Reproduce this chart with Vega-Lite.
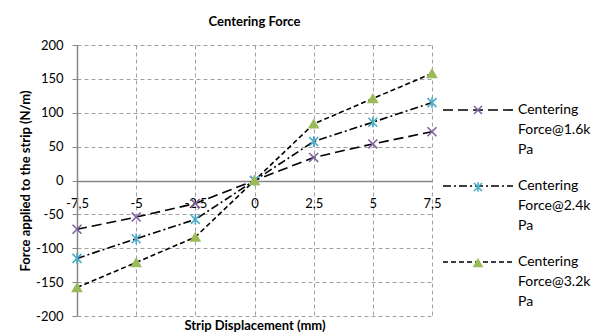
{
  "$schema": "https://vega.github.io/schema/vega-lite/v6.json",
  "width": 355,
  "height": 271,
  "autosize": "none",
  "padding": {"left": 77, "top": 45, "right": 162, "bottom": 20},
  "background": "white",
  "config": {
    "font": "Lato",
    "view": {"stroke": null},
    "axis": {"labelColor": "#000000", "titleColor": "#000000", "labelFont": "Lato", "titleFont": "Lato"}
  },
  "title": {"text": "Centering Force", "fontSize": 13, "fontWeight": "bold", "color": "#000000", "anchor": "middle", "offset": 10, "font": "Lato"},
  "data": {
    "values": [
      {"series": "Centering Force@1.6kPa", "x": -7.5, "y": -72},
      {"series": "Centering Force@1.6kPa", "x": -5, "y": -54},
      {"series": "Centering Force@1.6kPa", "x": -2.5, "y": -34},
      {"series": "Centering Force@1.6kPa", "x": 0, "y": 0},
      {"series": "Centering Force@1.6kPa", "x": 2.5, "y": 34},
      {"series": "Centering Force@1.6kPa", "x": 5, "y": 54},
      {"series": "Centering Force@1.6kPa", "x": 7.5, "y": 72},
      {"series": "Centering Force@2.4kPa", "x": -7.5, "y": -115},
      {"series": "Centering Force@2.4kPa", "x": -5, "y": -86},
      {"series": "Centering Force@2.4kPa", "x": -2.5, "y": -57.5},
      {"series": "Centering Force@2.4kPa", "x": 0, "y": 0},
      {"series": "Centering Force@2.4kPa", "x": 2.5, "y": 57.5},
      {"series": "Centering Force@2.4kPa", "x": 5, "y": 86},
      {"series": "Centering Force@2.4kPa", "x": 7.5, "y": 115},
      {"series": "Centering Force@3.2kPa", "x": -7.5, "y": -158},
      {"series": "Centering Force@3.2kPa", "x": -5, "y": -121},
      {"series": "Centering Force@3.2kPa", "x": -2.5, "y": -83.5},
      {"series": "Centering Force@3.2kPa", "x": 0, "y": 0},
      {"series": "Centering Force@3.2kPa", "x": 2.5, "y": 83.5},
      {"series": "Centering Force@3.2kPa", "x": 5, "y": 121},
      {"series": "Centering Force@3.2kPa", "x": 7.5, "y": 158}
    ]
  },
  "layer": [
    {
      "mark": {"type": "line", "color": "#000000", "strokeWidth": 1.6},
      "encoding": {
        "x": {
          "field": "x", "type": "quantitative",
          "scale": {"domain": [-7.5, 7.5], "nice": false, "zero": false},
          "axis": {
            "orient": "bottom", "values": [-7.5, -5, -2.5, 0, 2.5, 5, 7.5],
            "labels": false, "ticks": false, "domain": false,
            "grid": true, "gridDash": [4, 3], "gridColor": "#a0a0a0", "gridWidth": 1,
            "title": "Strip Displacement (mm)", "titleFontSize": 13, "titleFontWeight": "bold", "titlePadding": 3
          }
        },
        "y": {
          "field": "y", "type": "quantitative",
          "scale": {"domain": [-200, 200], "nice": false},
          "axis": {
            "values": [-200, -150, -100, -50, 0, 50, 100, 150, 200],
            "labelExpr": "toString(datum.value)", "labelOverlap": false,
            "grid": true, "gridDash": [4, 3], "gridColor": "#a0a0a0", "gridWidth": 1,
            "domainColor": "#868686", "domainWidth": 1.5,
            "tickColor": "#868686", "tickSize": 5, "labelPadding": 9, "labelFontSize": 13,
            "title": "Force applied to the strip (N/m)", "titleFontSize": 13, "titleFontWeight": "bold", "titlePadding": 3
          }
        },
        "strokeDash": {
          "field": "series", "type": "nominal",
          "scale": {
            "domain": ["Centering Force@1.6kPa", "Centering Force@2.4kPa", "Centering Force@3.2kPa"],
            "range": [[10, 5], [8, 3, 2, 3], [5, 3]]
          },
          "legend": {
            "orient": "none", "legendX": 394, "legendY": 58, "title": null, "padding": 0,
            "symbolType": "M-8.75,0H8.75", "symbolSize": 64, "symbolStrokeColor": "#000000", "symbolStrokeWidth": 1.6, "symbolFillColor": "transparent",
            "labelExpr": "[substring(datum.label,0,9), substring(datum.label,10,20), substring(datum.label,20)]",
            "labelFontSize": 14, "labelColor": "#000000", "labelOffset": 33, "labelLimit": 300,
            "rowPadding": 22,
            "encode": {"labels": {"update": {"lineHeight": {"value": 20}}}}
          }
        }
      }
    },
    {
      "mark": {"type": "point", "strokeWidth": 1.6, "opacity": 1, "size": 80},
      "encoding": {
        "x": {
          "field": "x", "type": "quantitative",
          "axis": {
            "orient": "bottom", "offset": -135, "grid": false, "ticks": false, "tickSize": 0,
            "domainColor": "#868686", "domainWidth": 1.5,
            "values": [-7.5, -5, -2.5, 0, 2.5, 5, 7.5],
            "labelExpr": "replace(toString(datum.value), '.', ',')",
            "labelPadding": 16, "labelFontSize": 13, "labelFlush": false, "labelOverlap": false, "labelBound": false,
            "title": null
          }
        },
        "y": {
          "field": "y", "type": "quantitative",
          "axis": {
            "values": [-200, -150, -100, -50, 0, 50, 100, 150, 200],
            "labelExpr": "toString(datum.value)", "labelOverlap": false,
            "grid": true, "gridDash": [4, 3], "gridColor": "#a0a0a0", "gridWidth": 1,
            "domainColor": "#868686", "domainWidth": 1.5,
            "tickColor": "#868686", "tickSize": 5, "labelPadding": 9, "labelFontSize": 13,
            "title": "Force applied to the strip (N/m)", "titleFontSize": 13, "titleFontWeight": "bold", "titlePadding": 3
          }
        },
        "shape": {
          "field": "series", "type": "nominal",
          "scale": {"range": ["M-1,-1L1,1M-1,1L1,-1", "M-1,-1L1,1M-1,1L1,-1M0,-1.2L0,1.2", "triangle-up"]},
          "legend": {
            "orient": "none", "legendX": 394, "legendY": 58, "title": null, "padding": 0,
            "symbolSize": 64, "symbolStrokeWidth": 1.6,
            "labelExpr": "[substring(datum.label,0,9), substring(datum.label,10,20), substring(datum.label,20)]",
            "labelFontSize": 14, "labelColor": "#000000", "labelOpacity": 0, "labelOffset": 33, "labelLimit": 300,
            "rowPadding": 30
          }
        },
        "fill": {
          "field": "series", "type": "nominal",
          "scale": {"range": ["#7f63a1", "#4bacc6", "#9bbb59"]},
          "legend": {
            "orient": "none", "legendX": 394, "legendY": 58, "title": null, "padding": 0,
            "symbolSize": 64, "symbolStrokeWidth": 1.6,
            "labelExpr": "[substring(datum.label,0,9), substring(datum.label,10,20), substring(datum.label,20)]",
            "labelFontSize": 14, "labelColor": "#000000", "labelOpacity": 0, "labelOffset": 33, "labelLimit": 300,
            "rowPadding": 30
          }
        },
        "stroke": {
          "field": "series", "type": "nominal",
          "scale": {"range": ["#7f63a1", "#4bacc6", "#9bbb59"]},
          "legend": {
            "orient": "none", "legendX": 394, "legendY": 58, "title": null, "padding": 0,
            "symbolSize": 64, "symbolStrokeWidth": 1.6,
            "labelExpr": "[substring(datum.label,0,9), substring(datum.label,10,20), substring(datum.label,20)]",
            "labelFontSize": 14, "labelColor": "#000000", "labelOpacity": 0, "labelOffset": 33, "labelLimit": 300,
            "rowPadding": 30
          }
        }
      }
    }
  ],
  "resolve": {"axis": {"x": "independent"}}
}
